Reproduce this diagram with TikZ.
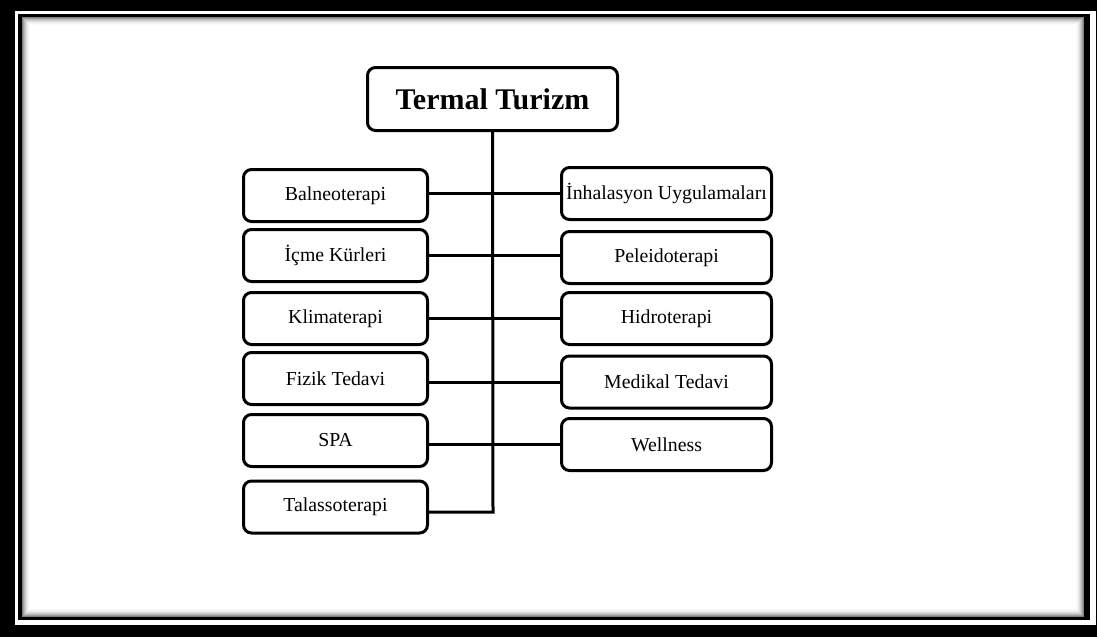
\documentclass[tikz,border=0pt]{standalone}
\usepackage{fontspec}
\setmainfont{Liberation Serif}
\begin{document}
\begin{tikzpicture}[x=1pt,y=-1pt,
  box/.style={draw=black,line width=3pt,rounded corners=8pt,rectangle,inner sep=0pt,
    font=\fontsize{19.8}{22}\selectfont,fill=white},
  lbox/.style={box,minimum width=184pt,minimum height=52pt},
  rbox/.style={box,minimum width=210pt,minimum height=52pt},
  tbox/.style={box,minimum width=250pt,minimum height=63pt,font=\fontsize{30}{34}\selectfont\bfseries},
  conn/.style={draw=black,line width=3pt,line join=miter}]
\useasboundingbox (0,0) rectangle (1097,637);
% frame
\fill[black] (0,0) rectangle (1097,637);
\fill[white] (15,11) rectangle (1096,625);
\fill[black] (18,14) rectangle (1090,620);
\fill[white] (22,17) rectangle (1084,617);
\foreach \i/\c in {0/50,1/38,2/28,3/20,4/13,5/8,6/4,7/2}{
  \draw[black!\c,line width=1pt] ({22+\i+0.5},{17+\i+0.5}) rectangle ({1084-\i-0.5},{617-\i-0.5});
}
% nodes
\node[tbox] (title) at (492.5,99) {Termal Turizm};
\node[lbox] (bal) at (335.5,195.5) {Balneoterapi};
\node[lbox] (icm) at (335.5,255.5) {İçme Kürleri};
\node[lbox] (kli) at (335.5,318.5) {Klimaterapi};
\node[lbox] (fiz) at (335.5,378.5) {Fizik Tedavi};
\node[lbox] (spa) at (335.5,440.5) {SPA};
\node[lbox] (tal) at (335.5,507) {Talassoterapi};
\node[rbox] (inh) at (666.5,193.5) {İnhalasyon Uygulamaları};
\node[rbox] (pel) at (666.5,257.5) {Peleidoterapi};
\node[rbox] (hid) at (666.5,318.5) {Hidroterapi};
\node[rbox] (med) at (666.5,382) {Medikal Tedavi};
\node[rbox] (wel) at (666.5,444.5) {Wellness};
\coordinate (bend) at (493,512);
% connectors
\draw[conn] (title.south) -- (bend) -- (tal.east |- bend);
\draw[conn] (bal.east |- inh.west) -- (inh.west);
\draw[conn] (icm.east) -- (icm.east -| pel.west);
\draw[conn] (kli.east) -- (hid.west);
\draw[conn] (fiz.east |- med.west) -- (med.west);
\draw[conn] (spa.east |- wel.west) -- (wel.west);
\end{tikzpicture}
\end{document}
